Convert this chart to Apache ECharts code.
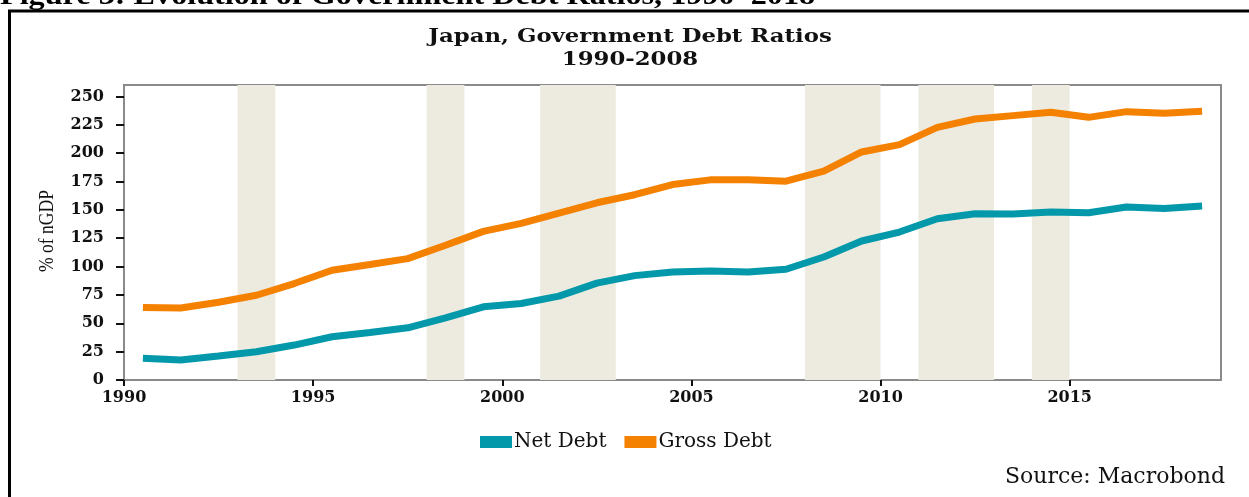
<!DOCTYPE html>
<html>
<head>
<meta charset="utf-8">
<script src="https://cdn.jsdelivr.net/npm/echarts@6/dist/echarts.min.js"></script>
<style>
html,body{margin:0;padding:0;background:#fff;}
#chart{width:1249px;height:497px;}
</style>
</head>
<body>
<div id="chart"></div>
<script>
// ---- data ----
const years = [1990,1991,1992,1993,1994,1995,1996,1997,1998,1999,2000,2001,2002,2003,2004,2005,2006,2007,2008,2009,2010,2011,2012,2013,2014,2015,2016,2017,2018];
const netDebt = [19.1,17.6,21.1,24.9,30.8,38.1,41.9,46.0,54.8,64.5,67.4,73.9,85.4,92.0,95.2,96.1,95.2,97.6,108.4,122.5,130.4,142.1,146.6,146.3,148.0,147.4,152.4,151.2,153.3];
const grossDebt = [64.0,63.5,68.5,74.7,85.0,96.7,101.8,107.0,118.7,131.0,138.0,147.0,156.2,163.3,172.3,176.4,176.4,175.2,184.0,201.0,207.5,222.7,230.0,233.0,236.0,231.5,236.5,235.0,236.8];
const shadedPeriods = [[1993,1994],[1998,1999],[2001,2003],[2008,2010],[2011,2013],[2014,2015]];
const xTicks = [1990,1995,2000,2005,2010,2015];
const yTicks = [0,25,50,75,100,125,150,175,200,225,250];

const serif = 'DejaVu Serif';
const chart = echarts.init(document.getElementById('chart'));
const pts = arr => years.map((y,i) => [y + 0.5, arr[i]]);

chart.setOption({
  animation: false,
  backgroundColor: '#ffffff',
  legend: {
    data: ['Net Debt','Gross Debt'],
    left: 475, top: 427,
    icon: 'rect', itemWidth: 32, itemHeight: 12, itemGap: 18,
    textStyle: {fontFamily: serif, fontSize: 20, color: '#111', padding: [0,0,0,-3]}
  },
  grid: {left: 124, right: 28, top: 85, bottom: 117, show: true, borderColor: '#8a8a8a', borderWidth: 2, containLabel: false},
  xAxis: {
    type: 'value', min: 1990, max: 2019, interval: 5,
    splitLine: {show: false},
    axisLine: {show: true, lineStyle: {color: '#8a8a8a', width: 2}},
    axisTick: {show: true, length: 6, lineStyle: {color: '#111', width: 2}, customValues: xTicks},
    axisLabel: {customValues: xTicks, margin: 10, fontFamily: serif, fontWeight: 'bold', fontSize: 16, color: '#111',
      formatter: v => (xTicks.indexOf(v) >= 0 ? String(v) : '')}
  },
  yAxis: {
    type: 'value', min: 0, max: 260, interval: 25,
    splitLine: {show: false},
    axisLine: {show: true, lineStyle: {color: '#8a8a8a', width: 2}},
    axisTick: {show: true, length: 8, lineStyle: {color: '#111', width: 2}, customValues: yTicks},
    axisLabel: {customValues: yTicks, margin: 20, fontFamily: serif, fontWeight: 'bold', fontSize: 16, color: '#111',
      formatter: v => (yTicks.indexOf(v) >= 0 ? String(v) : '')}
  },
  series: [
    {
      name: 'shade', type: 'line', data: [], z: 1, silent: true,
      markArea: {silent: true, itemStyle: {color: '#edebe0'},
        data: shadedPeriods.map(p => [{xAxis: p[0]}, {xAxis: p[1]}])}
    },
    {name: 'Net Debt', type: 'line', data: pts(netDebt), showSymbol: false, z: 3,
      lineStyle: {width: 7, color: '#0399aa'}, itemStyle: {color: '#0399aa'}},
    {name: 'Gross Debt', type: 'line', data: pts(grossDebt), showSymbol: false, z: 3,
      lineStyle: {width: 7, color: '#f58100'}, itemStyle: {color: '#f58100'}}
  ],
  graphic: [
    {type: 'text', x: 0, y: -17, scaleX: 1.15, style: {text: 'Figure 3: Evolution of Government Debt Ratios, 1990\u20132018', font: 'bold 28px "Liberation Serif"', fill: '#000'}},
    {type: 'line', shape: {x1: 8, y1: 11, x2: 1249, y2: 11}, style: {stroke: '#000', lineWidth: 3}},
    {type: 'line', shape: {x1: 9.5, y1: 10, x2: 9.5, y2: 497}, style: {stroke: '#000', lineWidth: 3}},
    {type: 'text', x: 630, y: 37, scaleX: 1.2, style: {text: 'Japan, Government Debt Ratios', font: 'bold 19px "DejaVu Serif"', fill: '#111', align: 'center', verticalAlign: 'middle'}},
    {type: 'text', x: 630, y: 60, scaleX: 1.2, style: {text: '1990-2008', font: 'bold 19px "DejaVu Serif"', fill: '#111', align: 'center', verticalAlign: 'middle'}},
    {type: 'text', x: 47, y: 231, rotation: Math.PI / 2, scaleX: 0.8, style: {text: '% of nGDP', font: '22px "Liberation Serif"', fill: '#111', align: 'center', verticalAlign: 'middle'}},
    {type: 'text', x: 1225, y: 477, style: {text: 'Source: Macrobond', font: '22px "DejaVu Serif"', fill: '#111', align: 'right', verticalAlign: 'middle'}}
  ]
});
</script>
</body>
</html>
